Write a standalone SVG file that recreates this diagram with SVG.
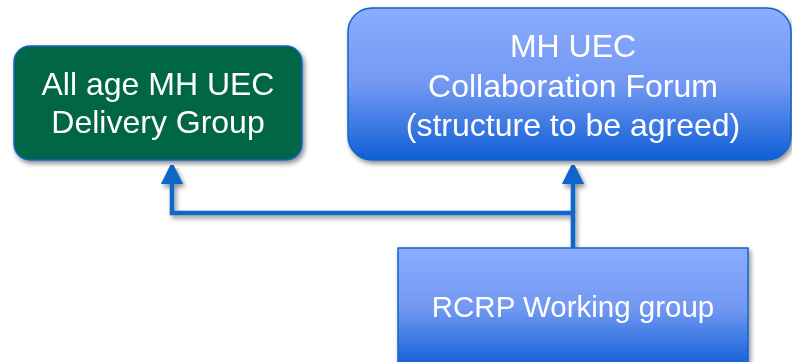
<svg xmlns="http://www.w3.org/2000/svg" width="792" height="362" viewBox="0 0 792 362">
<style>
.t{font-family:"Liberation Sans",Arial,sans-serif;font-size:32px;fill:#ffffff;text-anchor:middle}
.s{font-size:29.5px}
.c{stroke:#1166c8;stroke-width:4.5;fill:none}
</style>
<defs>
<linearGradient id="bg" x1="0" y1="0" x2="0" y2="1">
<stop offset="0" stop-color="#8cadff"/>
<stop offset="0.5" stop-color="#7298f2"/>
<stop offset="1" stop-color="#0f5fd6"/>
</linearGradient>
<filter id="sh" x="-10%" y="-10%" width="125%" height="130%">
<feGaussianBlur in="SourceAlpha" stdDeviation="2.5"/>
<feOffset dx="2" dy="3" result="b"/>
<feComponentTransfer><feFuncA type="linear" slope="0.45"/></feComponentTransfer>
<feMerge><feMergeNode/><feMergeNode in="SourceGraphic"/></feMerge>
</filter>
<marker id="ah" markerWidth="5" markerHeight="5" refX="2.5" refY="2.5" orient="auto" markerUnits="strokeWidth" viewBox="0 0 5 5">
<path d="M0,0 L5,2.5 L0,5 z" fill="#1166c8"/>
</marker>
</defs>
<g id="connectors" filter="url(#sh)">
<path class="c" d="M573,248 L573,213 L172,213 L172,173" marker-end="url(#ah)"/>
<path class="c" d="M573,213 L573,173" marker-end="url(#ah)"/>
</g>
<g id="delivery-group" filter="url(#sh)">
<rect x="14" y="46" width="288" height="114" rx="16" fill="#026644" stroke="#1166c8" stroke-width="1.5"/>
<text class="t" x="158" y="95">All age MH UEC</text>
<text class="t" x="158" y="133">Delivery Group</text>
</g>
<g id="collaboration-forum" filter="url(#sh)">
<rect x="348" y="8" width="443" height="152" rx="24" fill="url(#bg)" stroke="#1166c8" stroke-width="1.5"/>
<text class="t" x="573" y="57">MH UEC</text>
<text class="t" x="573" y="97">Collaboration Forum</text>
<text class="t" x="573" y="136">(structure to be agreed)</text>
</g>
<g id="rcrp-working-group" filter="url(#sh)">
<rect x="398" y="248" width="350" height="120" fill="url(#bg)" stroke="#1166c8" stroke-width="1.5"/>
<text class="t s" x="573" y="317">RCRP Working group</text>
</g>
</svg>
